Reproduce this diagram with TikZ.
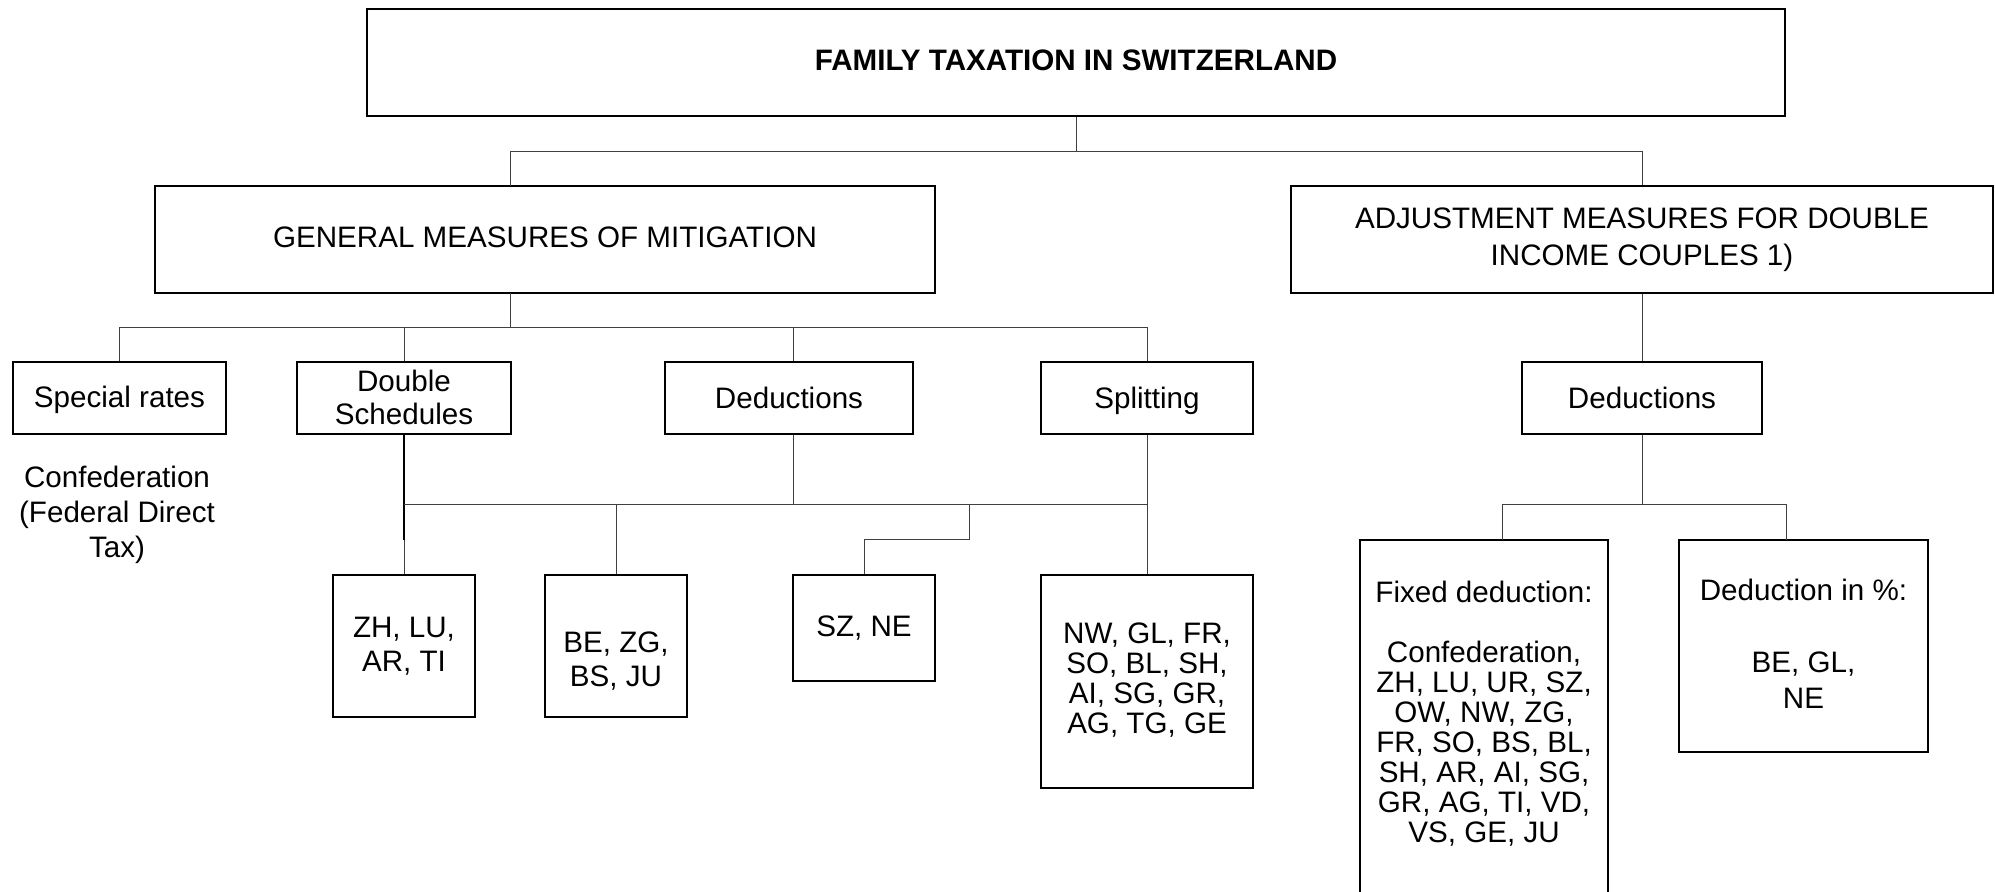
\documentclass[tikz,border=0pt]{standalone}
\usepackage{fontspec}
\setmainfont{Liberation Sans}
\usepackage{tikz}
\tikzset{
  box/.style={draw, rectangle, line width=0.8pt, inner sep=0pt},
  txt/.style={align=center, inner sep=0pt, font=\fontsize{14.8pt}{#1}\selectfont},
  txt/.default=17pt,
  link/.style={line width=0.5pt, black!75},
}
% box at centre (#3,#4), size #5 x #6 px, text centred at y=#7
\newcommand{\drawBox}[8][17pt]{
  \node[box, minimum width=#5*0.5pt, minimum height=#6*0.5pt] (#2) at (#3,#4) {};
  \node[txt=#1] (#2Text) at (#3,#7) {#8};
}

\begin{document}
\begin{tikzpicture}[x=0.5pt, y=-0.5pt]
  \useasboundingbox (0,0) rectangle (1995,891);
  \clip (0,0) rectangle (1995,891);
  % Nodes
  \drawBox{title}{1076}{62.5}{1418}{107}{60.5}{\bfseries FAMILY TAXATION IN SWITZERLAND}
  \drawBox{gmm}{545}{239.5}{780}{107}{237.5}{GENERAL MEASURES OF MITIGATION}
  \drawBox[18.5pt]{adj}{1642}{239.5}{702}{107}{240}{ADJUSTMENT MEASURES FOR DOUBLE\\INCOME COUPLES 1)}

  \drawBox{special}{119.5}{398}{213}{72}{400}{Special rates}
  \drawBox[16.5pt]{double}{404}{398}{214}{72}{397}{Double\\Schedules}
  \drawBox{dedL}{789}{398}{248}{72}{398}{Deductions}
  \drawBox{split}{1147}{398}{212}{72}{401}{Splitting}
  \drawBox{dedR}{1642}{398}{240}{72}{398}{Deductions}
  \node[txt=17.5pt] (fedTax) at (117,515) {Confederation\\(Federal Direct\\Tax)};

  \drawBox{zh}{404}{646}{142}{142}{646}{ZH, LU,\\AR, TI}
  \drawBox{be}{616}{646}{142}{142}{661.5}{BE, ZG,\\BS, JU}
  \drawBox{sz}{864}{628}{142}{106}{628}{SZ, NE}
  \drawBox[15pt]{nw}{1147}{681.5}{212}{213}{680}{NW, GL, FR,\\SO, BL, SH,\\AI, SG, GR,\\AG, TG, GE}
  \drawBox[15pt]{fixed}{1484}{750}{248}{420}{714}{Fixed deduction:\\[15pt]Confederation,\\ZH, LU, UR, SZ,\\OW, NW, ZG,\\FR, SO, BS, BL,\\SH, AR, AI, SG,\\GR, AG, TI, VD,\\VS, GE, JU}
  \drawBox[18pt]{pct}{1803.5}{646}{249}{212}{643.5}{Deduction in \%:\\[18pt]BE, GL,\\NE}

  % Junctions
  \coordinate (bus1) at (1076,151);
  \coordinate (gmmIn) at (510,186);
  \coordinate (gmmOut) at (510,293);
  \coordinate (bus2) at (510,327);
  \coordinate (bus3) at (793,504);
  \coordinate (dsKnee) at (404,540);
  \coordinate (szKnee) at (969,539);
  \coordinate (bus4) at (1642,504);
  \coordinate (fixedIn) at (1502,540);
  \coordinate (pctIn) at (1786,540);

  % Connectors
  \draw[link] (title.south) -- (bus1);
  \draw[link] (gmmIn) |- (bus1) -| (adj.north);
  \draw[link] (gmmOut) -- (bus2);
  \draw[link] (special.north) |- (split.north |- bus2) -- (split.north);
  \draw[link] (double.north) -- (double.north |- bus2);
  \draw[link] ([xshift=2pt]dedL.north) -- ([xshift=2pt]dedL.north |- bus2);

  \draw[line width=0.8pt] (double.south) -- (dsKnee);
  \draw[link] (dsKnee) -- (zh.north);
  \draw[link] ([xshift=2pt]dedL.south) -- (bus3);
  \draw[link] (dsKnee |- bus3) -- (split.south |- bus3);
  \draw[link] (split.south) -- (nw.north);
  \draw[link] (be.north) -- (be.north |- bus3);
  \draw[link] (sz.north) |- (szKnee) -- (szKnee |- bus3);

  \draw[link] (adj.south) -- (dedR.north);
  \draw[link] (dedR.south) -- (bus4);
  \draw[link] (fixedIn) |- (bus4) -| (pctIn);
\end{tikzpicture}
\end{document}
